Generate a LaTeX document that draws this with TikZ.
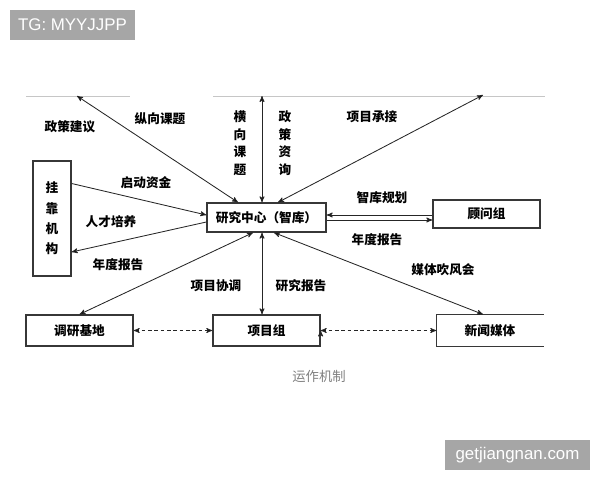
\documentclass[tikz,border=0pt]{standalone}
\usepackage{fontspec}
\usepackage{tikz}
\usetikzlibrary{arrows, positioning, calc}
\newfontfamily\cjk{Noto Sans CJK SC}
\newfontfamily\wmfont{Liberation Sans}
\definecolor{wmgray}{RGB}{166,166,166}
\definecolor{boxgray}{RGB}{55,55,55}

\begin{document}
\begin{tikzpicture}[x=0.025cm,y=-0.025cm,->,>=stealth',
  main node/.style={rectangle,draw=boxgray,line width=0.9pt,inner sep=0pt,
  font=\cjk\bfseries\fontsize{9}{11}\selectfont,minimum width=2.675cm,minimum height=0.775cm},
  lab/.style={font=\cjk\bfseries\fontsize{9}{11}\selectfont,inner sep=0pt},
  vlab/.style={lab,align=center,font=\cjk\bfseries\fontsize{9}{12.5}\selectfont},
  wm/.style={fill=wmgray,text=white,font=\wmfont\fontsize{12}{14}\selectfont,inner sep=0pt,minimum height=0.75cm}]
  \useasboundingbox (0,0) rectangle (600,480);

  % watermarks
  \node[wm,minimum width=3.125cm] (WM1) at (72.5,25) {TG: MYYJJPP};
  \node[wm,minimum width=3.625cm] (WM2) at (517.5,455) {getjiangnan.com};

  % top edge of the cut picture
  \draw[-,gray!45,line width=0.5pt] (26,96) -- (130,96);
  \draw[-,gray!45,line width=0.5pt] (213,96) -- (545,96);

  \node[main node,minimum width=2.975cm,minimum height=0.725cm] (C) at (266.5,217.5) {研究中心（智库）};
  \node[main node,minimum width=0.95cm,minimum height=2.875cm,align=center,
    font=\cjk\bfseries\fontsize{9}{14.5}\selectfont] (GK) at (52,218.5) {挂\\靠\\机\\构};
  \node[main node,minimum height=0.7cm] (GW) at (486.5,214) {顾问组};
  \node[main node] (DY) at (79.5,330.5) {调研基地};
  \node[main node] (XM) at (266.5,330.5) {项目组};
  \node[main node,draw=none,minimum width=2.65cm] (XW) at (490,330.5) {新闻媒体};
  \draw[-,boxgray,line width=0.9pt] (XW.north east) -- (XW.north west) -- (XW.south west) -- (XW.south east);

  \coordinate (T1) at (77,96);
  \coordinate (T2) at (262,96);
  \coordinate (T3) at (483,95);
  \coordinate (CU) at ($(C.east)+(0,-2.5)$);
  \coordinate (CD) at ($(C.east)+(0,2.5)$);

  % labels
  \node[lab] (L1) at (70,127) {政策建议};
  \node[lab] (L2) at (160,119) {纵向课题};
  \node[vlab] (L3) at (240,143) {横\\向\\课\\题};
  \node[vlab] (L4) at (285,143) {政\\策\\资\\询};
  \node[lab] (L5) at (372,117) {项目承接};
  \node[lab] (L6) at (146,183) {启动资金};
  \node[lab] (L7) at (111,222) {人才培养};
  \node[lab] (L8) at (118,265) {年度报告};
  \node[lab] (L9) at (382,198) {智库规划};
  \node[lab] (L10) at (377,240) {年度报告};
  \node[lab] (L11) at (216,286) {项目协调};
  \node[lab] (L12) at (301,286) {研究报告};
  \node[lab] (L13) at (443,270) {媒体吹风会};
  \node[font=\cjk\fontsize{9.5}{11}\selectfont,text=gray,inner sep=0pt] (CAP) at (319,376) {运作机制};

  \path[line width=0.6pt,draw=black!85]
     ($(C.north)+(-28.5,0)$) edge [<->] (T1)
     ($(C.north)+(-4.5,0)$) edge [<->] (T2)
     ($(C.north)+(11.5,0)$) edge [<->] (T3)
     ($(GK.east)+(0,-35)$) edge ($(C.west)+(0,-2.5)$)
     ($(C.west)+(0,4.5)$) edge ($(GK.east)+(0,33.5)$)
     (GW.west |- CU) edge (CU)
     (CD) edge (GW.west |- CD)
     ($(C.south)+(-13.5,0)$) edge [<->] (DY.north)
     ($(C.south)+(-4.5,0)$) edge [<->] ($(XM.north)+(-4.5,0)$)
     ($(C.south)+(7.5,0)$) edge [<->] ($(XW.north)+(-7,0)$)
     (DY.east) edge [<->,dash pattern=on 2.5pt off 2pt] (XM.west)
     (XM.east) edge [<->,dash pattern=on 2.5pt off 2pt] (XW.west);
\end{tikzpicture}
\end{document}
